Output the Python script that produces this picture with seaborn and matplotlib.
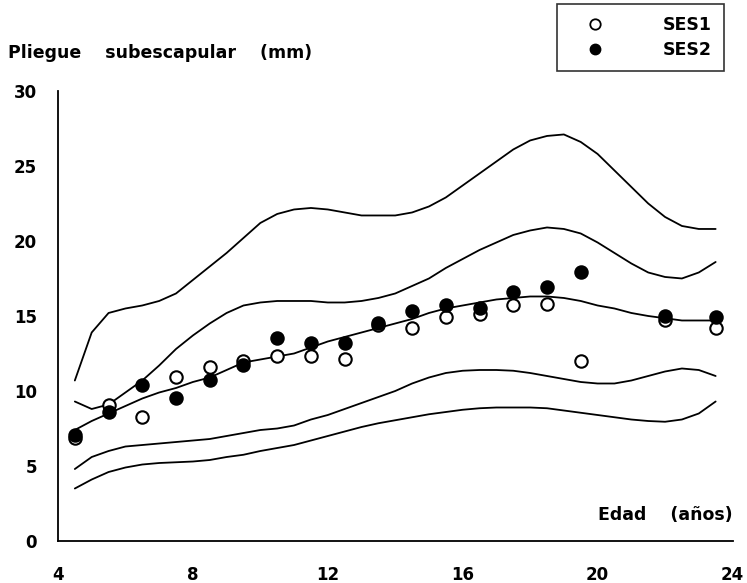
import numpy as np
import pandas as pd
import matplotlib
matplotlib.use("Agg")
import matplotlib.pyplot as plt
from matplotlib.lines import Line2D
import seaborn as sns

# Mean subscapular skinfold by age for two socioeconomic groups
ages = [4.5, 5.5, 6.5, 7.5, 8.5, 9.5, 10.5, 11.5, 12.5, 13.5, 14.5, 15.5,
        16.5, 17.5, 18.5, 19.5, 22.0, 23.5]
ses1 = [6.9, 9.1, 8.3, 10.9, 11.6, 12.0, 12.3, 12.3, 12.1, 14.4, 14.2, 14.9,
        15.1, 15.7, 15.8, 12.0, 14.7, 14.2]
ses2 = [7.1, 8.6, 10.4, 9.5, 10.7, 11.7, 13.5, 13.2, 13.2, 14.5, 15.3, 15.7,
        15.5, 16.6, 16.9, 17.9, 15.0, 14.9]

# Reference percentile curves
curve_age = [4.5, 5.0, 5.5, 6.0, 6.5, 7.0, 7.5, 8.0, 8.5, 9.0, 9.5, 10.0,
             10.5, 11.0, 11.5, 12.0, 12.5, 13.0, 13.5, 14.0, 14.5, 15.0,
             15.5, 16.0, 16.5, 17.0, 17.5, 18.0, 18.5, 19.0, 19.5, 20.0,
             20.5, 21.0, 21.5, 22.0, 22.5, 23.0, 23.5]
p97 = [10.7, 13.9, 15.2, 15.5, 15.7, 16.0, 16.5, 17.4, 18.3, 19.2, 20.2, 21.2,
       21.8, 22.1, 22.2, 22.1, 21.9, 21.7, 21.7, 21.7, 21.9, 22.3, 22.9, 23.7,
       24.5, 25.3, 26.1, 26.7, 27.0, 27.1, 26.6, 25.8, 24.7, 23.6, 22.5, 21.6,
       21.0, 20.8, 20.8]
p90 = [9.3, 8.8, 9.1, 9.9, 10.7, 11.7, 12.8, 13.7, 14.5, 15.2, 15.7, 15.9,
       16.0, 16.0, 16.0, 15.9, 15.9, 16.0, 16.2, 16.5, 17.0, 17.5, 18.2, 18.8,
       19.4, 19.9, 20.4, 20.7, 20.9, 20.8, 20.5, 19.9, 19.2, 18.5, 17.9, 17.6,
       17.5, 17.9, 18.6]
p50 = [7.4, 8.0, 8.5, 9.0, 9.5, 9.9, 10.2, 10.6, 10.9, 11.4, 11.9, 12.1,
       12.3, 12.5, 12.9, 13.3, 13.6, 13.9, 14.2, 14.5, 14.8, 15.2, 15.5, 15.7,
       15.9, 16.1, 16.2, 16.3, 16.3, 16.2, 16.0, 15.7, 15.5, 15.2, 15.0, 14.85,
       14.7, 14.7, 14.7]
p10 = [4.8, 5.6, 6.0, 6.3, 6.4, 6.5, 6.6, 6.7, 6.8, 7.0, 7.2, 7.4,
       7.5, 7.7, 8.1, 8.4, 8.8, 9.2, 9.6, 10.0, 10.5, 10.9, 11.2, 11.35,
       11.4, 11.4, 11.35, 11.2, 11.0, 10.8, 10.6, 10.5, 10.5, 10.7, 11.0, 11.3,
       11.5, 11.4, 11.0]
p3 = [3.5, 4.1, 4.6, 4.9, 5.1, 5.2, 5.25, 5.3, 5.4, 5.6, 5.75, 6.0,
      6.2, 6.4, 6.7, 7.0, 7.3, 7.6, 7.85, 8.05, 8.25, 8.45, 8.6, 8.75,
      8.85, 8.9, 8.9, 8.9, 8.85, 8.7, 8.55, 8.4, 8.25, 8.1, 8.0, 7.95,
      8.1, 8.5, 9.3]

x_ticks = [4, 8, 12, 16, 20, 24]
y_ticks = [0, 5, 10, 15, 20, 25, 30]

curves = pd.concat([
    pd.DataFrame({"edad": curve_age, "valor": vals, "percentil": name})
    for name, vals in [("P97", p97), ("P90", p90), ("P50", p50),
                       ("P10", p10), ("P3", p3)]
], ignore_index=True)
points = pd.DataFrame({
    "edad": ages + ages,
    "valor": ses1 + ses2,
    "grupo": ["SES1"] * len(ages) + ["SES2"] * len(ages),
})

sns.set_style("white")
plt.rcParams["font.family"] = ["DejaVu Sans"]
plt.rcParams["font.weight"] = "bold"
plt.rcParams["text.color"] = "black"
plt.rcParams["xtick.color"] = "black"
plt.rcParams["ytick.color"] = "black"

fig = plt.figure(figsize=(7.47, 5.83), dpi=100)
ax = fig.add_axes([0.0776, 0.072, 0.903, 0.772])

sns.lineplot(data=curves, x="edad", y="valor", units="percentil",
             estimator=None, color="black", linewidth=1.3, ax=ax,
             sort=False, legend=False)
for ln in ax.get_lines():
    ln.set_solid_joinstyle("round")
    ln.set_solid_capstyle("round")

sns.scatterplot(data=points[points.grupo == "SES1"], x="edad", y="valor",
                marker="o", s=80, facecolor="white", edgecolor="black",
                linewidth=1.5, ax=ax, zorder=3, legend=False)
sns.scatterplot(data=points[points.grupo == "SES2"], x="edad", y="valor",
                marker="o", s=80, color="black", edgecolor="black",
                linewidth=1.5, ax=ax, zorder=4, legend=False)

ax.set_xlim(4, 24)
ax.set_ylim(0, 30)
ax.set_xticks(x_ticks)
ax.set_yticks(y_ticks)
ax.set_xticklabels([str(t) for t in x_ticks])
ax.set_yticklabels([str(t) for t in y_ticks])
ax.set_xlabel("")
ax.set_ylabel("")
for side in ("top", "right"):
    ax.spines[side].set_visible(False)
for side in ("left", "bottom"):
    ax.spines[side].set_color("black")
    ax.spines[side].set_linewidth(1.3)
ax.tick_params(axis="both", direction="out", length=7, width=1.3,
               color="black", labelsize=12, labelcolor="black")
ax.tick_params(axis="x", pad=11)
ax.tick_params(axis="y", pad=8)
for lab in ax.get_xticklabels() + ax.get_yticklabels():
    lab.set_fontweight("bold")

fig.text(0.011, 0.909, "Pliegue    subescapular    (mm)", fontsize=12.5,
         fontweight="bold", ha="left", va="center", color="black")
ax.text(24, 1.75, "Edad    (años)", fontsize=12.5, fontweight="bold",
        ha="right", va="center", color="black")

handles = [
    Line2D([], [], linestyle="none", marker="o", markersize=7.5,
           markerfacecolor="white", markeredgecolor="black",
           markeredgewidth=1.3),
    Line2D([], [], linestyle="none", marker="o", markersize=7.5,
           markerfacecolor="black", markeredgecolor="black"),
]
leg = fig.legend(handles, ["SES1", "SES2"], loc="upper right",
                 bbox_to_anchor=(0.969, 0.993), frameon=True, fancybox=False,
                 edgecolor="black", prop={"weight": "bold", "size": 12.5},
                 handletextpad=2.4, borderpad=0.7, labelspacing=0.4,
                 borderaxespad=0, handlelength=3.0)
leg.get_frame().set_linewidth(1.2)
for t in leg.get_texts():
    t.set_color("black")

fig.savefig("out.png", dpi=100, facecolor="white")
